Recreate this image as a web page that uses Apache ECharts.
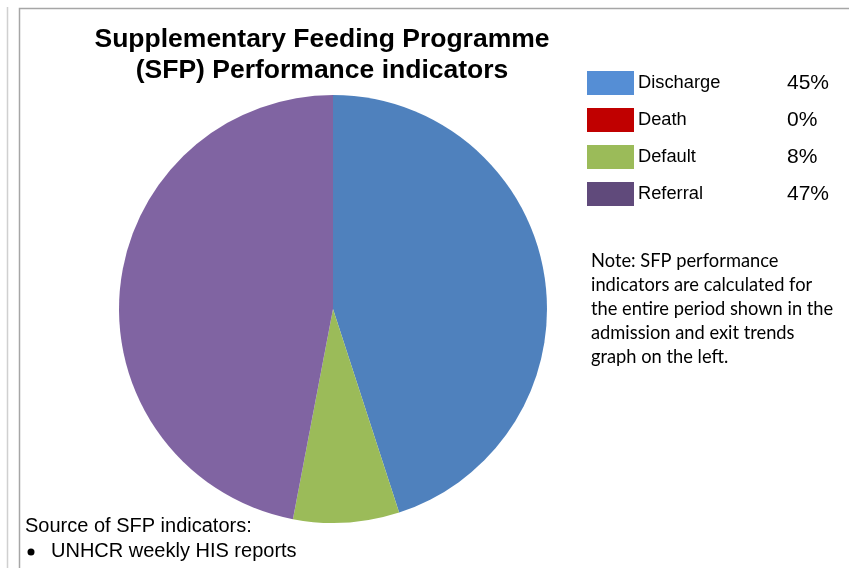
<!DOCTYPE html>
<html>
<head>
<meta charset="utf-8">
<script src="https://cdn.jsdelivr.net/npm/echarts@6/dist/echarts.min.js"></script>
<style>html,body{margin:0;padding:0;background:#fff;}#c{width:849px;height:568px;}</style>
</head>
<body>
<div id="c"></div>
<script>
const categories = ['Discharge', 'Death', 'Default', 'Referral'];
const values = [45, 0, 8, 47];
const sliceColors = ['#4F81BD', '#C0504D', '#9BBB59', '#8064A2'];
const legendColors = ['#558ED5', '#C00000', '#9BBB59', '#604A7B'];

const chart = echarts.init(document.getElementById('c'));
const font = '"Liberation Sans", Arial, sans-serif';
chart.setOption({
  animation: false,
  title: {
    text: 'Supplementary Feeding Programme\n(SFP) Performance indicators',
    left: 322, top: 24, textAlign: 'center', padding: 0,
    textStyle: { fontFamily: font, fontSize: 26.5, fontWeight: 'bold', color: '#000', lineHeight: 31 }
  },
  legend: {
    orient: 'vertical', left: 587, top: 71, padding: 0,
    icon: 'rect', itemWidth: 47, itemHeight: 24, itemGap: 13,
    selectedMode: false,
    data: categories.map((c, i) => ({ name: c, itemStyle: { color: legendColors[i] } })),
    formatter: function (name) {
      const i = categories.indexOf(name);
      return '{n|' + name + '}{v|' + values[i] + '%}';
    },
    textStyle: {
      padding: [0, 0, 0, -1],
      rich: {
        n: { fontFamily: font, fontSize: 18.3, color: '#000', width: 149 },
        v: { fontFamily: font, fontSize: 21, color: '#000' }
      }
    }
  },
  series: [{
    type: 'pie',
    center: [333, 309], radius: 214,
    startAngle: 90, clockwise: true,
    label: { show: false }, labelLine: { show: false },
    emphasis: { disabled: true },
    itemStyle: { borderWidth: 0 },
    data: categories.map((c, i) => ({ name: c, value: values[i], itemStyle: { color: sliceColors[i] } }))
  }],
  graphic: [
    { type: 'line', shape: { x1: 7.5, y1: 7, x2: 7.5, y2: 568 }, style: { stroke: '#d0d0d0', lineWidth: 1.5 } },
    { type: 'polyline', shape: { points: [[19.5, 568], [19.5, 8.5], [849, 8.5]] }, style: { stroke: '#a6a6a6', lineWidth: 1.5, fill: null } },
    { type: 'text', left: 591, top: 249, style: {
      text: 'Note: SFP performance\nindicators are calculated for\nthe entire period shown in the\nadmission and exit trends\ngraph on the left.',
      fontFamily: 'Lato, "Open Sans", sans-serif', fontSize: 18.3, lineHeight: 24, fill: '#000' } },
    { type: 'text', left: 25, top: 516, style: { text: 'Source of SFP indicators:', fontFamily: font, fontSize: 20, fill: '#000' } },
    { type: 'circle', shape: { cx: 31, cy: 552, r: 3.5 }, style: { fill: '#000' } },
    { type: 'text', left: 51, top: 541, style: { text: 'UNHCR weekly HIS reports', fontFamily: font, fontSize: 20, fill: '#000' } }
  ]
});
</script>
</body>
</html>
